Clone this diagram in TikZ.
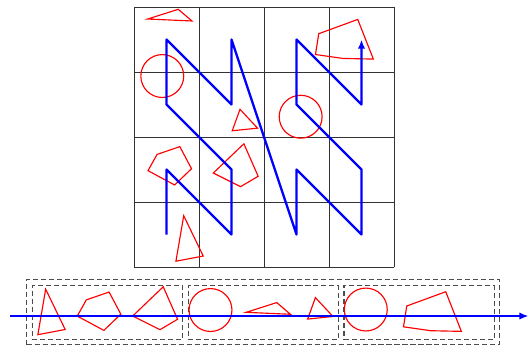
\documentclass[tikz,border=0pt]{standalone}
\usetikzlibrary{positioning, arrows.meta, fit}

\tikzset{
  redline/.style = {draw=red, line width=0.5pt},
  triA/.pic = {\draw[redline] (0,0) -- (0.30,-0.62) -- (-0.12,-0.70) -- cycle;},
  pentB/.pic = {\draw[redline] (0,0) -- (0.14,0.25) -- (0.49,0.37) -- (0.67,0.03) -- (0.41,-0.22) -- cycle;},
  quadC/.pic = {\draw[redline] (0,0) -- (0.47,0.45) -- (0.69,-0.05) -- (0.42,-0.21) -- cycle;},
  triE/.pic = {\draw[redline] (0,0) -- (0.47,0.15) -- (0.68,-0.03) -- cycle;},
  triF/.pic = {\draw[redline] (0,0) -- (0.27,-0.29) -- (-0.12,-0.33) -- cycle;},
  pentH/.pic = {\draw[redline] (0,0) -- (0.60,0.22) -- (0.84,-0.39) -- (0.37,-0.38) -- (-0.05,-0.32) -- cycle;},
  ring/.pic = {\draw[redline] (0,0) circle (0.33);}
}

\begin{document}
\begin{tikzpicture}[
  x = 1cm, y = 1cm,
  cell/.style = {draw=black!80, line width=0.4pt},
  zcurve/.style = {draw=blue, line width=1pt, line join=round, -{Latex[length=4pt, width=3.2pt]}},
  seg/.style = {draw=black!70, line width=0.5pt, dash pattern=on 2.2pt off 1.3pt, inner sep=0pt},
  segbox/.style = {seg, minimum width=2.31cm, minimum height=0.83cm}
]
\useasboundingbox (-2.0615,-1.2308) rectangle (6.0769,4.1077);

% --- grid
\draw[cell] (0,0) grid (4,4);

% --- shapes in the plane
\pic at (0.765,0.789) {triA};
\pic at (0.215,1.482) {pentB};
\pic at (1.220,1.446) {quadC};
\pic at (0.435,2.938) {ring};
\pic at (0.211,3.815) {triE};
\pic at (1.631,2.426) {triF};
\pic at (2.564,2.312) {ring};
\pic at (2.842,3.589) {pentH};

% --- curve through the cells
\foreach \x/\y [count=\i] in {0.5/0.5, 0.5/1.5, 1.5/0.5, 1.5/1.5, 0.5/2.5, 0.5/3.5, 1.5/2.5, 1.5/3.5,
                              2.5/0.5, 2.5/1.5, 3.5/0.5, 3.5/1.5, 2.5/2.5, 2.5/3.5, 3.5/2.5, 3.5/3.5}
  \coordinate (c\i) at (\x,\y);
\draw[zcurve] (c1) \foreach \i in {2,...,16} {-- (c\i)};

% --- segments of the line
\node[segbox] (seg1) at (-0.410,-0.697) {};
\node[segbox, right=0.07cm of seg1] (seg2) {};
\node[segbox, right=0.07cm of seg2] (seg3) {};
\node[seg, fit=(seg1)(seg3), inner sep=2.2pt] (segall) {};

% --- shapes along the line
\pic at (-1.359,-0.341) {triA};
\pic at (-0.873,-0.755) {pentB};
\pic at (-0.020,-0.754) {quadC};
\pic at (1.177,-0.662) {ring};
\pic at (1.726,-0.697) {triE};
\pic at (2.791,-0.471) {triF};
\pic at (3.566,-0.654) {ring};
\pic at (4.196,-0.600) {pentH};

\coordinate (seqL) at (-1.91,-0.754);
\coordinate (seqR) at (6.07,-0.754);
\draw[zcurve] (seqL) -- (seqR);

\end{tikzpicture}
\end{document}
